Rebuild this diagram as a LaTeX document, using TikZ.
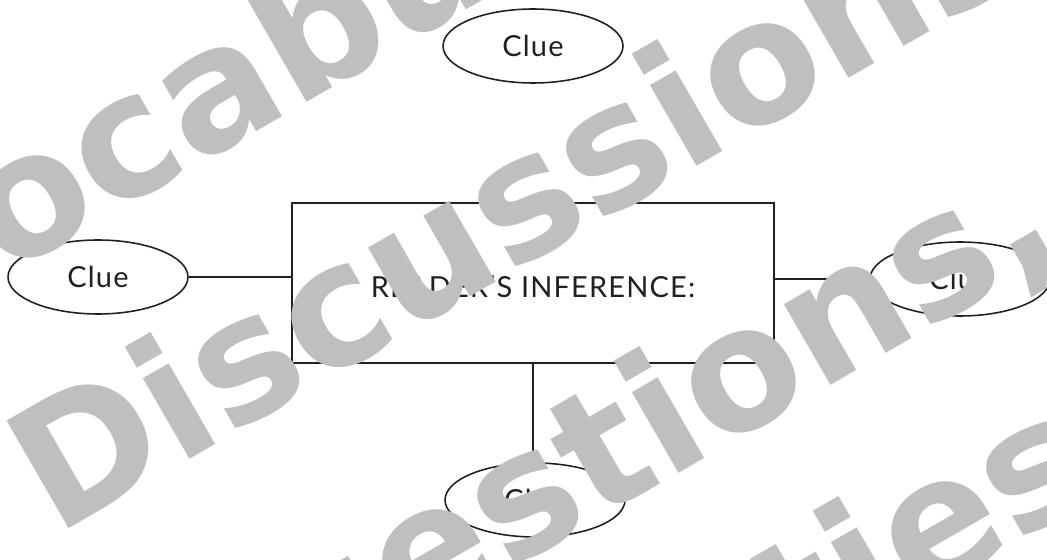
\documentclass[tikz,border=0pt]{standalone}
\usepackage{fontspec}
\usepackage{tikz}
\usetikzlibrary{shapes.geometric}
\newfontfamily\cluefont[LetterSpace=4]{Lato}
\newfontfamily\markfont{DejaVu Sans}
\definecolor{inkblack}{HTML}{231F20}
\definecolor{markgray}{gray}{0.75}
\tikzset{
  BaseNode/.style = {inner sep=0pt, text centered, text=inkblack, font=\cluefont\fontsize{16.5}{18}\selectfont},
  ClueNode/.style = {BaseNode, ellipse, draw=inkblack, line width=0.9pt, minimum width=3.6cm, minimum height=1.48cm},
  InferenceNode/.style = {BaseNode, rectangle, draw=inkblack, line width=1.1pt, minimum width=9.64cm, minimum height=3.2cm, text height=0.6cm, text depth=0pt},
  LinkLine/.style = {draw=inkblack, line width=0.9pt},
  MarkNode/.style = {anchor=base west, inner sep=0pt, rotate=30, text=markgray, font=\markfont\bfseries\fontsize{97}{97}\selectfont},
}

\begin{document}
\begin{tikzpicture}[x=0.02cm,y=-0.02cm]
    \useasboundingbox (0,0) rectangle (1047,560);
    \clip (0,0) rectangle (1047,560);
    \node [InferenceNode] (inference) at (533,283) {READER’S INFERENCE:};
    \node [ClueNode] (top) at (533,46) {Clue};
    \node [ClueNode] (left) at (98,277) {Clue};
    \node [ClueNode] (right) at (960,279) {Clue};
    \node [ClueNode] (bottom) at (535,500) {Clue};
    \draw [LinkLine] (top.south) -- (top.south -| inference.north);
    \draw [LinkLine] (inference.south) -- (inference.south |- bottom.north);
    \draw [LinkLine] (left.east) -- (left.east -| inference.west);
    \draw [LinkLine] (inference.east |- right.west) -- (right.west);
    \node [MarkNode] (vocab) at (-101,338) {Vocabulary,};
    \node [MarkNode] (discuss) at (55,537) {Discussions,};
    \node [MarkNode] (question) at (177,763) {Questions,};
    \node [MarkNode] (activity) at (325,943) {Activities};
\end{tikzpicture}
\end{document}
